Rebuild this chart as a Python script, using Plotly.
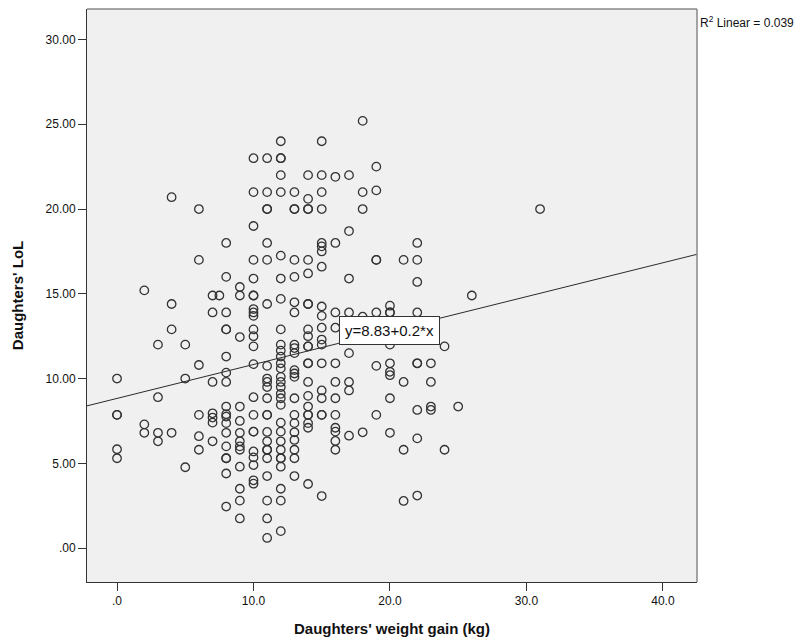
import plotly.graph_objects as go

# Scatter data: weight gain (kg) -> list of LoL values
gain_0 = [10.0, 7.86, 7.86, 5.83, 5.3]
gain_2 = [15.2, 7.3, 6.8]
gain_3 = [12.0, 8.9, 6.8, 6.3]
gain_4 = [20.7, 14.4, 12.9, 6.8]
gain_5 = [12.0, 10.0, 4.77]
gain_6 = [20.0, 17.0, 10.8, 7.86, 6.6, 5.8]
gain_7 = [14.9, 13.9, 9.8, 7.95, 7.7, 7.4, 6.3]
gain_7_5 = [14.9]
gain_8 = [18.0, 16.0, 13.9, 12.9, 12.9, 11.3, 10.35, 9.8, 8.35, 7.9, 7.76, 7.37, 6.8, 6.0, 5.3, 5.3, 4.4, 2.45]
gain_9 = [15.4, 14.9, 12.45, 8.35, 7.5, 6.8, 6.3, 6.0, 5.8, 4.8, 3.5, 2.8, 1.75]
gain_10 = [23.0, 21.0, 19.0, 17.0, 15.9, 14.9, 14.9, 14.1, 13.9, 13.7, 12.9, 12.5, 11.9, 10.85, 8.9, 7.86, 6.87, 6.87, 5.7, 5.35, 4.9, 4.0, 3.8]
gain_11 = [23.0, 21.0, 20.0, 20.0, 18.0, 17.0, 14.4, 10.75, 10.0, 9.8, 9.5, 8.84, 7.86, 7.86, 6.85, 6.3, 5.8, 5.8, 5.3, 4.25, 2.8, 1.75, 0.6]
gain_12 = [24.0, 23.0, 23.0, 22.0, 21.0, 17.25, 15.9, 14.7, 12.9, 12.0, 11.65, 11.3, 10.9, 10.6, 10.1, 9.8, 9.5, 9.1, 8.84, 8.45, 7.4, 6.87, 6.3, 5.8, 5.3, 5.3, 4.8, 3.5, 2.8, 1.0]
gain_13 = [21.0, 20.0, 20.0, 17.0, 16.0, 14.5, 13.9, 12.0, 11.8, 11.5, 10.5, 10.3, 10.1, 8.84, 7.86, 7.37, 6.83, 6.38, 5.8, 5.3, 4.25]
gain_14 = [22.0, 20.6, 20.0, 20.0, 17.0, 16.2, 14.4, 14.4, 12.9, 12.5, 11.9, 11.9, 10.9, 10.9, 9.8, 8.98, 8.35, 7.86, 7.86, 7.37, 7.1, 3.78]
gain_15 = [24.0, 22.0, 21.0, 20.0, 18.0, 17.8, 17.5, 16.6, 14.25, 13.7, 13.0, 12.3, 12.0, 10.9, 9.3, 8.84, 7.86, 7.86, 3.07]
gain_16 = [21.9, 18.0, 13.9, 13.0, 10.9, 9.8, 8.84, 7.86, 7.1, 6.87, 6.32, 5.8]
gain_17 = [22.0, 18.7, 15.9, 13.9, 11.5, 9.8, 9.3, 6.63]
gain_18 = [25.2, 21.0, 20.0, 13.65, 6.83]
gain_19 = [22.5, 21.1, 17.0, 17.0, 13.9, 10.75, 7.86]
gain_20 = [14.3, 13.9, 13.9, 12.0, 10.9, 10.4, 10.2, 8.84, 6.8]
gain_21 = [17.0, 9.8, 5.8, 2.78]
gain_22 = [18.0, 17.0, 15.7, 13.9, 10.9, 10.9, 8.15, 6.47, 3.1]
gain_23 = [10.9, 9.8, 8.35, 8.15]
gain_24 = [11.9, 5.8]
gain_25 = [8.35]
gain_26 = [14.9]
gain_31 = [20.0]

groups = {0: gain_0, 2: gain_2, 3: gain_3, 4: gain_4, 5: gain_5, 6: gain_6,
          7: gain_7, 7.5: gain_7_5, 8: gain_8, 9: gain_9, 10: gain_10, 11: gain_11,
          12: gain_12, 13: gain_13, 14: gain_14, 15: gain_15, 16: gain_16,
          17: gain_17, 18: gain_18, 19: gain_19, 20: gain_20, 21: gain_21,
          22: gain_22, 23: gain_23, 24: gain_24, 25: gain_25, 26: gain_26, 31: gain_31}

xs, ys = [], []
for g, vals in groups.items():
    for v in vals:
        xs.append(g)
        ys.append(v)

# Fit line shown in chart
intercept = 8.83
slope = 0.2
r2_value = 0.039
x_range = [-2.2, 42.5]
y_range = [-2.0, 31.8]

x_ticks = [0, 10, 20, 30, 40]
x_tick_text = [".0", "10.0", "20.0", "30.0", "40.0"]
y_ticks = [0, 5, 10, 15, 20, 25, 30]
y_tick_text = [".00", "5.00", "10.00", "15.00", "20.00", "25.00", "30.00"]

fig = go.Figure()
fig.add_trace(go.Scatter(
    x=[x_range[0], x_range[1]],
    y=[intercept + slope * x_range[0], intercept + slope * x_range[1]],
    mode="lines", line=dict(color="#2a2a2a", width=1), hoverinfo="skip", showlegend=False))
fig.add_trace(go.Scatter(
    x=xs, y=ys, mode="markers",
    marker=dict(symbol="circle-open", size=8.5, color="#333333", line=dict(width=1.3)),
    showlegend=False))

eq_x = 20.0
fig.add_annotation(x=eq_x, y=intercept + slope * eq_x, xref="x", yref="y",
                   text="y=8.83+0.2*x", showarrow=False,
                   font=dict(family="Liberation Sans, Arial", size=15, color="#111"),
                   bgcolor="white", bordercolor="#333", borderwidth=1, borderpad=5,
                   yshift=0)
fig.add_annotation(x=1, y=1, xref="paper", yref="paper", xanchor="left", yanchor="top",
                   text="R<sup>2</sup> Linear = " + f"{r2_value:.3f}", showarrow=False,
                   xshift=1, yshift=-3,
                   font=dict(family="Liberation Sans, Arial", size=12, color="#111"))

# gray top/right border
fig.add_shape(type="line", xref="paper", yref="paper", x0=0, x1=1, y0=1, y1=1,
              line=dict(color="#888", width=1.5))
fig.add_shape(type="line", xref="paper", yref="paper", x0=1, x1=1, y0=0, y1=1,
              line=dict(color="#888", width=1.5))

fig.update_layout(
    width=811, height=643,
    margin=dict(l=87, r=114, t=9, b=61),
    paper_bgcolor="white", plot_bgcolor="#f0f0f0",
    font=dict(family="Liberation Sans, Arial", size=12, color="#111"),
    xaxis=dict(range=x_range, tickvals=x_ticks, ticktext=x_tick_text,
               showgrid=False, zeroline=False, showline=True, linecolor="#333", linewidth=1,
               ticks="outside", ticklen=8, tickcolor="#333",
               title=dict(text="<b>Daughters' weight gain (kg)</b>", font=dict(size=15), standoff=16)),
    yaxis=dict(range=y_range, tickvals=y_ticks, ticktext=y_tick_text,
               showgrid=False, zeroline=False, showline=True, linecolor="#333", linewidth=1,
               ticks="outside", ticklen=8, tickcolor="#333",
               title=dict(text="<b>Daughters' LoL</b>", font=dict(size=15), standoff=18)),
)

fig.write_html("out.html")
